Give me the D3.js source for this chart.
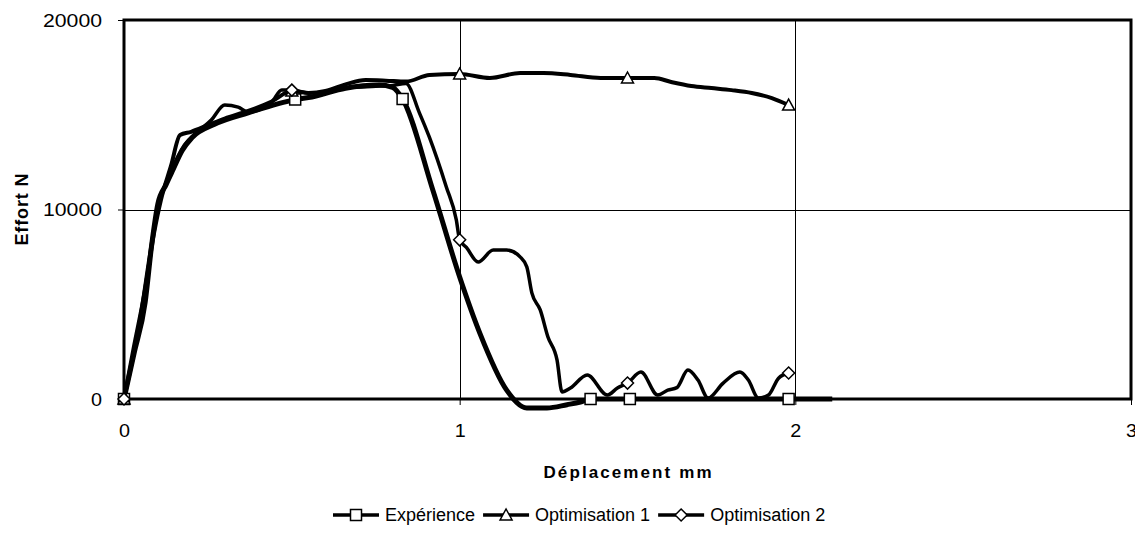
<!DOCTYPE html>
<html>
<head>
<meta charset="utf-8">
<script src="https://cdn.jsdelivr.net/npm/d3@7"></script>
<style>
  html, body { margin: 0; padding: 0; background: #fff; }
  svg { display: block; }
  text { font-family: "Liberation Sans", Arial, sans-serif; fill: #000; }
</style>
</head>
<body>
<svg id="chart" width="1135" height="546"></svg>
<script>
// ---------------- DATA ----------------
const seriesNames = ["Expérience", "Optimisation 1", "Optimisation 2"];

const expX = [0, 0.03, 0.063, 0.083, 0.101, 0.125, 0.146, 0.173, 0.203, 0.27, 0.37, 0.51, 0.56, 0.66, 0.76, 0.80, 0.83, 0.92, 1.0, 1.06, 1.14, 1.2, 1.26, 1.32, 1.36, 1.39, 1.507, 1.98, 2.11];
const expY = [0, 2400, 5100, 8200, 10300, 11300, 12100, 13100, 13800, 14500, 15100, 15800, 15940, 16400, 16570, 16450, 15830, 11030, 6440, 3480, 470, -470, -470, -300, -160, 0, 0, 0, 0];
const expMarkers = [0, 11, 16, 25, 26, 27];

const opt1X = [0, 0.03, 0.06, 0.09, 0.11, 0.14, 0.167, 0.2, 0.25, 0.3, 0.37, 0.44, 0.5, 0.55, 0.6, 0.66, 0.72, 0.78, 0.84, 0.91, 1.0, 1.09, 1.18, 1.25, 1.33, 1.42, 1.5, 1.58, 1.63, 1.69, 1.75, 1.81, 1.87, 1.93, 1.98];
const opt1Y = [0, 2800, 5500, 8800, 10500, 12300, 13930, 14100, 14450, 14800, 15200, 15700, 16250, 16150, 16250, 16600, 16830, 16800, 16750, 17100, 17150, 16940, 17200, 17200, 17100, 16940, 16940, 16940, 16730, 16520, 16410, 16300, 16150, 15880, 15510];
const opt1Markers = [0, 12, 20, 26, 34];

const opt2X = [0, 0.025, 0.05, 0.08, 0.1, 0.14, 0.18, 0.22, 0.26, 0.3, 0.34, 0.37, 0.44, 0.47, 0.5, 0.55, 0.6, 0.68, 0.75, 0.8, 0.84, 0.88, 0.91, 0.96, 0.99, 1.0, 1.02, 1.055, 1.1, 1.14, 1.18, 1.2, 1.215, 1.24, 1.263, 1.29, 1.305, 1.33, 1.38, 1.44, 1.47, 1.5, 1.54, 1.59, 1.62, 1.647, 1.68, 1.71, 1.74, 1.785, 1.835, 1.86, 1.89, 1.92, 1.95, 1.98];
const opt2Y = [0, 2000, 4500, 8000, 10000, 12000, 13400, 14100, 14720, 15510, 15400, 15150, 15670, 16300, 16300, 16150, 16200, 16450, 16500, 16550, 16650, 15100, 13800, 11200, 9450, 8400, 8000, 7230, 7860, 7860, 7500, 6970, 5600, 4700, 3270, 2060, 370, 580, 1270, 210, 580, 840, 1420, 210, 470, 600, 1530, 1000, 50, 840, 1420, 1000, 50, 210, 1100, 1370];
const opt2Markers = [0, 14, 25, 41, 55];

const xTicks = [0, 1, 2, 3];
const yTicks = [0, 10000, 20000];
const xTitle = "Déplacement mm";
const yTitle = "Effort N";

// ---------------- LAYOUT ----------------
const svg = d3.select("#chart");
const m = { left: 124, top: 20, right: 1131, bottom: 399 };
const x = d3.scaleLinear().domain([0, 3]).range([m.left, m.right]);
const y = d3.scaleLinear().domain([0, 20000]).range([m.bottom, m.top]);

// gridlines
const grid = svg.append("g");
grid.selectAll("line.gx").data(xTicks.filter(t => t > 0 && t < 3)).join("line")
  .attr("x1", d => Math.round(x(d)) + 0.5).attr("x2", d => Math.round(x(d)) + 0.5)
  .attr("y1", m.top).attr("y2", m.bottom)
  .attr("stroke", "#000").attr("stroke-width", 1);
grid.selectAll("line.gy").data(yTicks.filter(t => t > 0 && t < 20000)).join("line")
  .attr("x1", m.left).attr("x2", m.right)
  .attr("y1", d => Math.round(y(d)) + 0.5).attr("y2", d => Math.round(y(d)) + 0.5)
  .attr("stroke", "#000").attr("stroke-width", 1);

// axes (ticks + labels)
const yAxis = d3.axisLeft(y).tickValues(yTicks).tickSize(6).tickPadding(16).tickFormat(d3.format("d"));
const gy = svg.append("g").attr("transform", `translate(${m.left},0)`).call(yAxis);
gy.select(".domain").remove();
gy.selectAll(".tick line").attr("stroke", "#000");
gy.selectAll(".tick text").attr("font-size", 18).attr("font-family", "Liberation Sans, Arial, sans-serif")
  .attr("dy", "0.36em").attr("textLength", d => d === 0 ? 11 : 59).attr("lengthAdjust", "spacingAndGlyphs");

const xAxis = d3.axisBottom(x).tickValues(xTicks).tickSize(6).tickPadding(19).tickFormat(d3.format("d"));
const gx = svg.append("g").attr("transform", `translate(0,${m.bottom})`).call(xAxis);
gx.select(".domain").remove();
gx.selectAll(".tick line").attr("stroke", "#000");
gx.selectAll(".tick text").attr("font-size", 18).attr("font-family", "Liberation Sans, Arial, sans-serif")
  .attr("textLength", 11).attr("lengthAdjust", "spacingAndGlyphs");

// plot frame
svg.append("rect")
  .attr("x", m.left).attr("y", m.top)
  .attr("width", m.right - m.left).attr("height", m.bottom - m.top)
  .attr("fill", "none").attr("stroke", "#000").attr("stroke-width", 3);

// ---------------- SERIES ----------------
const series = [
  { name: seriesNames[0], xs: expX, ys: expY, mk: expMarkers, width: 5, shape: "square" },
  { name: seriesNames[1], xs: opt1X, ys: opt1Y, mk: opt1Markers, width: 4, shape: "triangle" },
  { name: seriesNames[2], xs: opt2X, ys: opt2Y, mk: opt2Markers, width: 3.5, shape: "diamond" }
];

const line = d3.line().x(d => x(d[0])).y(d => y(d[1])).curve(d3.curveMonotoneX);

function markerPath(shape) {
  if (shape === "square") return "M-5.5,-5.5H5.5V5.5H-5.5Z";
  if (shape === "triangle") return "M0,-6L6,5H-6Z";
  return "M0,-6L6,0L0,6L-6,0Z";
}

series.forEach(s => {
  const pts = s.xs.map((v, i) => [v, s.ys[i]]);
  const g = svg.append("g");
  g.append("path").datum(pts).attr("d", line)
    .attr("fill", "none").attr("stroke", "#000")
    .attr("stroke-width", s.width).attr("stroke-linejoin", "round");
  g.selectAll("path.mk").data(s.mk.map(i => pts[i])).join("path")
    .attr("class", "mk")
    .attr("transform", d => `translate(${x(d[0])},${y(d[1])})`)
    .attr("d", markerPath(s.shape))
    .attr("fill", "#fff").attr("stroke", "#000").attr("stroke-width", 1.5);
});

// ---------------- TITLES ----------------
svg.append("text")
  .attr("x", (m.left + m.right) / 2).attr("y", 478)
  .attr("text-anchor", "middle").attr("font-weight", "bold").attr("font-size", 17)
  .attr("textLength", 168).attr("lengthAdjust", "spacing")
  .text(xTitle);

svg.append("text")
  .attr("transform", `translate(28,${(m.top + m.bottom) / 2}) rotate(-90)`)
  .attr("text-anchor", "middle").attr("font-weight", "bold").attr("font-size", 18)
  .attr("textLength", 72).attr("lengthAdjust", "spacing")
  .text(yTitle);

// ---------------- LEGEND ----------------
const lg = svg.append("g");
let cx = 333;
const ly = 515;
series.forEach(s => {
  lg.append("line").attr("x1", cx).attr("x2", cx + 46).attr("y1", ly).attr("y2", ly)
    .attr("stroke", "#000").attr("stroke-width", 3.5);
  lg.append("path").attr("transform", `translate(${cx + 23},${ly})`)
    .attr("d", markerPath(s.shape))
    .attr("fill", "#fff").attr("stroke", "#000").attr("stroke-width", 1.5);
  const t = lg.append("text").attr("x", cx + 52).attr("y", ly).attr("dy", "0.36em")
    .attr("font-size", 18).text(s.name);
  cx = cx + 52 + t.node().getComputedTextLength() + 8;
});
</script>
</body>
</html>
